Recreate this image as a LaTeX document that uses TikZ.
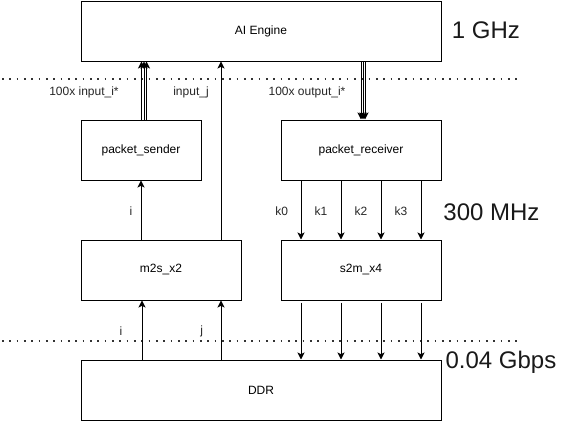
\documentclass[tikz,border=0pt]{standalone}
\usepackage{fontspec}
\setmainfont{Liberation Sans}
\usetikzlibrary{arrows.meta}
\begin{document}
\begin{tikzpicture}[x=0.75pt,y=-0.75pt,
  blk/.style={draw,line width=0.75pt,minimum height=45pt,inner sep=0pt,font=\fontsize{9pt}{11pt}\selectfont},
  arr/.style={line width=0.75pt,-{Stealth[length=5.25pt,width=5.25pt,inset=1.3pt]}},
  lbl/.style={font=\fontsize{9pt}{11pt}\selectfont,text=black!85,inner sep=0pt},
  big/.style={font=\fontsize{18pt}{20pt}\selectfont,anchor=base,inner sep=0pt,text=black!90},
  sep/.style={line width=1.2pt,dash pattern=on 1.2pt off 4.3pt,black!80}]
\useasboundingbox (0,0) rectangle (562,421);
% blocks
\node[blk,minimum width=270pt] (ai) at (261,31) {AI Engine};
\node[blk,minimum width=90pt] (ps) at (141,150) {packet\_sender};
\node[blk,minimum width=120pt] (pr) at (361,150) {packet\_receiver};
\node[blk,minimum width=120pt] (m2s) at (161,270) {m2s\_x2};
\node[blk,minimum width=120pt] (s2m) at (361,270) {s2m\_x4};
\node[blk,minimum width=270pt] (ddr) at (261,390) {DDR};
% separators
\coordinate (l1a) at (2,79); \coordinate (l1b) at (517,79);
\coordinate (l2a) at (2,341); \coordinate (l2b) at (517,341);
\draw[sep] (l1a) -- (l1b);
\draw[sep] (l2a) -- (l2b);
% packet_sender -> AI Engine (3x)
\foreach \s in {0.375pt,2.25pt,4.125pt}
  \draw[arr] ([xshift=\s]ps.north) -- ([xshift=\s]ai.south -| ps.north);
% input_j
\draw[arr] ([xshift=45pt]m2s.north) -- ([xshift=45pt]ai.south -| m2s.north);
% AI Engine -> packet_receiver (3x)
\foreach \s in {0pt,1.5pt,3pt}
  \draw[arr] ([xshift=\s]ai.south -| pr.north) -- ([xshift=\s]pr.north);
% m2s -> packet_sender
\draw[arr] (m2s.north -| ps.south) -- (ps.south);
% packet_receiver -> s2m
\foreach \s in {-45pt,-15pt,15pt,45pt}
  \draw[arr] ([xshift=\s]pr.south) -- ([xshift=\s]s2m.north);
% DDR -> m2s
\draw[arr] ([xshift=-14.25pt]ddr.north -| m2s.south) -- ([xshift=-14.25pt]m2s.south);
\draw[arr] ([xshift=45pt]ddr.north -| m2s.south) -- ([xshift=45pt]m2s.south);
% s2m -> DDR
\foreach \s in {-45pt,-15pt,15pt,45pt}
  \draw[arr] ([xshift=\s,yshift=-1.5pt]s2m.south) -- ([xshift=\s]ddr.north -| s2m.south);
% labels
\node[lbl] (t1) at (84,92) {100x input\_i*};
\node[lbl] (t2) at (191,92) {input\_j};
\node[lbl] (t3) at (307,92) {100x output\_i*};
\node[lbl] (ti) at (131,211) {i};
\node[lbl] (k0) at (281.7,211) {k0};
\node[lbl] (k1) at (321,211) {k1};
\node[lbl] (k2) at (361,211) {k2};
\node[lbl] (k3) at (401,211) {k3};
\node[lbl] (bi) at (121,331) {i};
\node[lbl] (bj) at (201.7,331) {j};
\node[big] (f1) at (486,38.5) {1 GHz};
\node[big] (f2) at (491.5,220) {300 MHz};
\node[big] (f3) at (501,368) {0.04 Gbps};
\end{tikzpicture}
\end{document}
